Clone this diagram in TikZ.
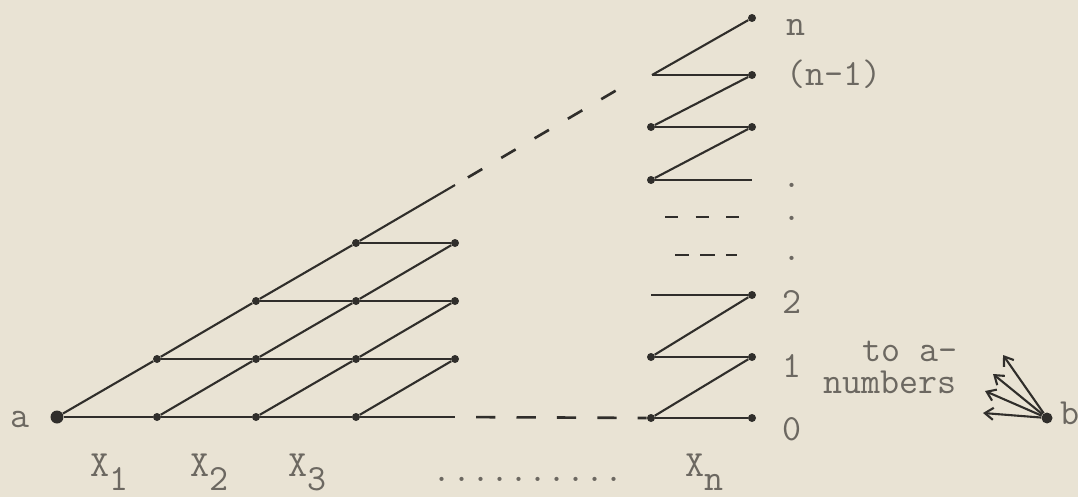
\documentclass[tikz,border=0pt]{standalone}
\usetikzlibrary{arrows.meta,positioning}
\definecolor{Paper}{RGB}{233,227,212}
\definecolor{Ink}{RGB}{48,46,43}
\definecolor{TypeGray}{RGB}{108,104,97}
\tikzset{
  vtx/.style={circle,fill=Ink,inner sep=0pt,minimum size=1.6mm},
  bigvtx/.style={circle,fill=Ink,inner sep=0pt,minimum size=2.6mm},
  wire/.style={draw=Ink,line width=1.2pt},
  gapline/.style={draw=Ink,line width=1.5pt,dash pattern=on 11pt off 12pt,dash phase=11pt},
  slantgap/.style={draw=Ink,line width=1.5pt,dash pattern=on 9.5pt off 12.5pt,dash phase=13.5pt},
  fan/.style={draw=Ink,line width=1.2pt,-{Straight Barb[length=1.7mm,width=2.4mm]}},
  lbl/.style={text=TypeGray,font=\fontsize{21}{25}\selectfont\ttfamily,inner sep=0pt}
}
\newcommand{\sublow}[1]{\raisebox{-8pt}{#1}}

\begin{document}
\begin{tikzpicture}[x=0.02cm,y=-0.02cm]
\fill[Paper](0,0)rectangle(1078,497);
\useasboundingbox(0,0)rectangle(1078,497);
% left lattice
\node[bigvtx](a)at(57,417){};
\node[vtx](g10)at(157,417){};
\node[vtx](g20)at(256,417){};
\node[vtx](g30)at(356,417){};
\coordinate(g40)at(455,417);
\node[vtx](g01)at(157,359){};
\node[vtx](g11)at(256,359){};
\node[vtx](g21)at(356,359){};
\node[vtx](g31)at(455,359){};
\node[vtx](g02)at(256,301){};
\node[vtx](g12)at(356,301){};
\node[vtx](g22)at(455,301){};
\node[vtx](g03)at(356,243){};
\node[vtx](g13)at(455,243){};
\coordinate(g04)at(455,185);
\coordinate(g05)at(622,87);
\draw[wire](a)--(g10)--(g20)--(g30)--(g40);
\draw[wire](g01)--(g11)--(g21)--(g31);
\draw[wire](g02)--(g12)--(g22);
\draw[wire](g03)--(g13);
\draw[wire](a)--(g01)--(g02)--(g03)--(g04);
\draw[wire](g10)--(g11)--(g12)--(g13);
\draw[wire](g20)--(g21)--(g22);
\draw[wire](g30)--(g31);
\draw[slantgap](g04)--(g05);
% right zigzag
\node[vtx](z0l)at(651,418){};
\node[vtx](z0r)at(752,418){};
\node[vtx](z1l)at(651,357){};
\node[vtx](z1r)at(752,357){};
\coordinate(z2l)at(651,295);
\node[vtx](z2r)at(752,295){};
\node[vtx](z3l)at(651,180){};
\coordinate(z3r)at(752,180);
\node[vtx](z4l)at(651,127){};
\node[vtx](z4r)at(752,127){};
\coordinate(z5l)at(652,75);
\node[vtx](z5r)at(752,75){};
\node[vtx](zn)at(752,18){};
\draw[gapline](g40)--(z0l);
\draw[wire](z0l)--(z0r);
\draw[wire](z0l)--(z1r);
\draw[wire](z1l)--(z1r);
\draw[wire](z1l)--(z2r);
\draw[wire](z2l)--(z2r);
\draw[wire](z3l)--(z3r);
\draw[wire](z3l)--(z4r);
\draw[wire](z4l)--(z4r);
\draw[wire](z4l)--(z5r);
\draw[wire](z5l)--(z5r);
\draw[wire](z5l)--(zn);
\coordinate(h1a)at(675,255);
\coordinate(h1b)at(737,255);
\coordinate(h2a)at(665,217);
\coordinate(h2b)at(740,217);
\draw[draw=Ink,line width=1.5pt,dash pattern=on 8pt off 6.5pt](h1a)--(h1b);
\draw[draw=Ink,line width=1.5pt,dash pattern=on 7.4pt off 10pt](h2a)--(h2b);
% b and its arrows
\node[vtx,minimum size=2.2mm](b)at(1047,418){};
\coordinate(t1)at(1003,355);
\coordinate(t2)at(993,374);
\coordinate(t3)at(985,391);
\coordinate(t4)at(983,413);
\draw[fan](b)--(t1);
\draw[fan](b)--(t2);
\draw[fan](b)--(t3);
\draw[fan](b)--(t4);
% labels
\node[lbl,anchor=base west](la)at(10,427){a};
\node[lbl,anchor=base west](lb)at(1060,424){b};
\node[lbl,anchor=base west](x1)at(90,476){X\sublow{1}};
\node[lbl,anchor=base west](x2)at(190,476){X\sublow{2}};
\node[lbl,anchor=base west](x3)at(288,476){X\sublow{3}};
\node[lbl,anchor=base west](xn)at(685,476){X\sublow{n}};
\node[lbl,anchor=base](dd)at(528,481){..........};
\node[lbl,anchor=base west](ln)at(786,35){n};
\node[lbl,anchor=base west](ln1)at(786,85){(n-1)};
\node[lbl](p1)at(792,185){.};
\node[lbl](p2)at(792,218){.};
\node[lbl](p3)at(792,258){.};
\node[lbl,anchor=base](l2)at(792,313){2};
\node[lbl,anchor=base](l1)at(792,377){1};
\node[lbl,anchor=base](l0)at(792,440){0};
\node[lbl,anchor=base west](ta)at(862,361){to a-};
\node[lbl,anchor=base west](nu)at(823,393){numbers};
\end{tikzpicture}
\end{document}
